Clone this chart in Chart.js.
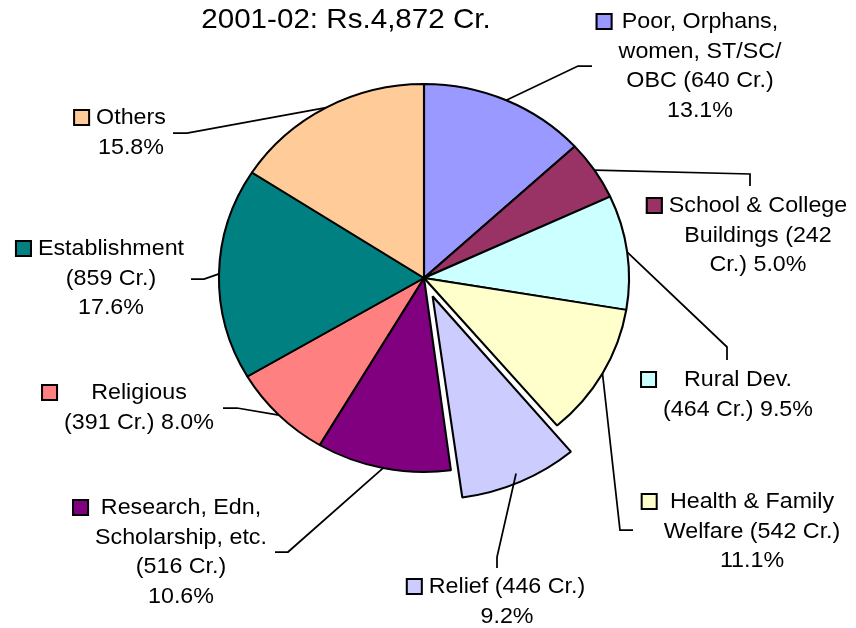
<!DOCTYPE html>
<html>
<head>
<meta charset="utf-8">
<title>2001-02: Rs.4,872 Cr.</title>
<script src="https://cdn.jsdelivr.net/npm/chart.js@4.4.1/dist/chart.umd.min.js"></script>
<style>
  html, body { margin: 0; padding: 0; background: #fff; }
  #wrap { width: 856px; height: 628px; }
</style>
</head>
<body>
<div id="wrap"><canvas id="myChart" width="856" height="628"></canvas></div>
<script>
// data (Rs. crore)
const chartTitle = '2001-02: Rs.4,872 Cr.';
const categories = ['Poor, Orphans, women, ST/SC/ OBC', 'School & College Buildings', 'Rural Dev.',
    'Health & Family Welfare', 'Relief', 'Research, Edn, Scholarship, etc.', 'Religious',
    'Establishment', 'Others'];
const amounts = [640, 242, 464, 542, 446, 516, 391, 859, 772];
const showAmount = [true, true, true, true, true, true, true, true, false];
const colors = ['#9999FF', '#993366', '#CCFFFF', '#FFFFCC', '#CCCCFF', '#800080', '#FF8080', '#008080', '#FFCC99'];
const exploded = [0, 0, 0, 0, 20, 0, 0, 0, 0];   // px the slice is pulled out

// words per label line (how the labels wrap)
const lineWords = [[2, 2, 3, 1], [3, 2, 2], [2, 3], [3, 3, 1], [3, 1], [2, 2, 2, 1], [1, 3], [1, 2, 1], [1, 1]];
// label text centre / first baseline, leader elbow and end
const labelPos = [
    { x: 700, y: 28, elbow: [578, 66], end: [592, 66] },
    { x: 758, y: 212, elbow: [750, 174], end: [750, 186] },
    { x: 738, y: 386, elbow: [727, 347], end: [727, 360] },
    { x: 752, y: 508, elbow: [620, 530], end: [633, 530] },
    { x: 507, y: 593, elbow: [497, 557], end: [497, 568] },
    { x: 181, y: 514, elbow: [288, 552], end: [275, 552] },
    { x: 139, y: 399, elbow: [237, 408], end: [223, 408] },
    { x: 111, y: 255, elbow: [204, 279], end: [191, 279] },
    { x: 131, y: 124, elbow: [187, 133], end: [173, 133] }
];

const SX = 1.057;           // the picture is stretched a little sideways
const FONT = '"Liberation Sans", Arial, sans-serif';
const total = amounts.reduce((a, b) => a + b, 0);

function labelLines(i) {
    let txt = categories[i];
    if (showAmount[i]) txt += ' (' + amounts[i] + ' Cr.)';
    txt += ' ' + (amounts[i] / total * 100).toFixed(1) + '%';
    const words = txt.split(' ');
    const lines = [];
    let k = 0;
    lineWords[i].forEach(n => {
        lines.push(words.slice(k, k + n).join(' '));
        k += n;
    });
    return lines;
}

const stretchPlugin = {
    id: 'stretch',
    beforeDatasetsDraw(chart) {
        const ctx = chart.ctx;
        const cx = (chart.chartArea.left + chart.chartArea.right) / 2;
        ctx.save();
        ctx.translate(cx, 0);
        ctx.scale(SX, 1);
        ctx.translate(-cx, 0);
    },
    afterDatasetsDraw(chart) {
        chart.ctx.restore();
    }
};

const labelPlugin = {
    id: 'pieLabels',
    afterDraw(chart) {
        const ctx = chart.ctx;
        const meta = chart.getDatasetMeta(0);
        const cx = (chart.chartArea.left + chart.chartArea.right) / 2;

        // title
        ctx.save();
        ctx.fillStyle = '#000';
        ctx.font = '28px ' + FONT;
        ctx.textAlign = 'center';
        ctx.textBaseline = 'alphabetic';
        ctx.translate(346, 28);
        ctx.scale(SX, 1);
        ctx.fillText(chartTitle, 0, 0);
        ctx.restore();

        meta.data.forEach((arc, i) => {
            const p = arc.getProps(['x', 'y', 'startAngle', 'endAngle', 'outerRadius'], true);
            const mid = (p.startAngle + p.endAngle) / 2;
            const r = p.outerRadius + exploded[i];
            const sx = cx + (p.x + Math.cos(mid) * r - cx) * SX;
            const sy = p.y + Math.sin(mid) * r;
            const lp = labelPos[i];

            // leader line
            ctx.save();
            ctx.strokeStyle = '#000';
            ctx.lineWidth = 1.75;
            ctx.beginPath();
            ctx.moveTo(sx, sy);
            ctx.lineTo(lp.elbow[0], lp.elbow[1]);
            ctx.lineTo(lp.end[0], lp.end[1]);
            ctx.stroke();
            ctx.restore();

            // text
            const lines = labelLines(i);
            ctx.save();
            ctx.font = '22px ' + FONT;
            ctx.fillStyle = '#000';
            ctx.textAlign = 'center';
            let maxW = 0;
            lines.forEach((ln, j) => {
                maxW = Math.max(maxW, ctx.measureText(ln).width * SX);
                ctx.save();
                ctx.translate(lp.x, lp.y + j * 29.7);
                ctx.scale(SX, 1);
                ctx.fillText(ln, 0, 0);
                ctx.restore();
            });
            // legend key
            const kx = lp.x - maxW / 2 - 6 - 17;
            const ky = lp.y - 15;
            ctx.fillStyle = colors[i];
            ctx.fillRect(kx, ky, 17, 17);
            ctx.strokeStyle = '#000';
            ctx.lineWidth = 2;
            ctx.strokeRect(kx + 1, ky + 1, 15, 15);
            ctx.restore();
        });
    }
};

const ctx = document.getElementById('myChart').getContext('2d');
new Chart(ctx, {
    type: 'pie',
    data: {
        labels: categories,
        datasets: [{
            data: amounts,
            backgroundColor: colors,
            borderColor: '#000',
            borderWidth: 2,
            offset: exploded.map(v => v * 4),   // Chart.js moves an arc by offset / 4
            clip: false
        }]
    },
    options: {
        responsive: false,
        animation: false,
        events: [],
        radius: 194,
        layout: { padding: { left: 0, right: 8, top: 0, bottom: 72 } },
        plugins: {
            legend: { display: false },
            title: { display: false },
            tooltip: { enabled: false }
        }
    },
    plugins: [stretchPlugin, labelPlugin]
});
</script>
</body>
</html>
